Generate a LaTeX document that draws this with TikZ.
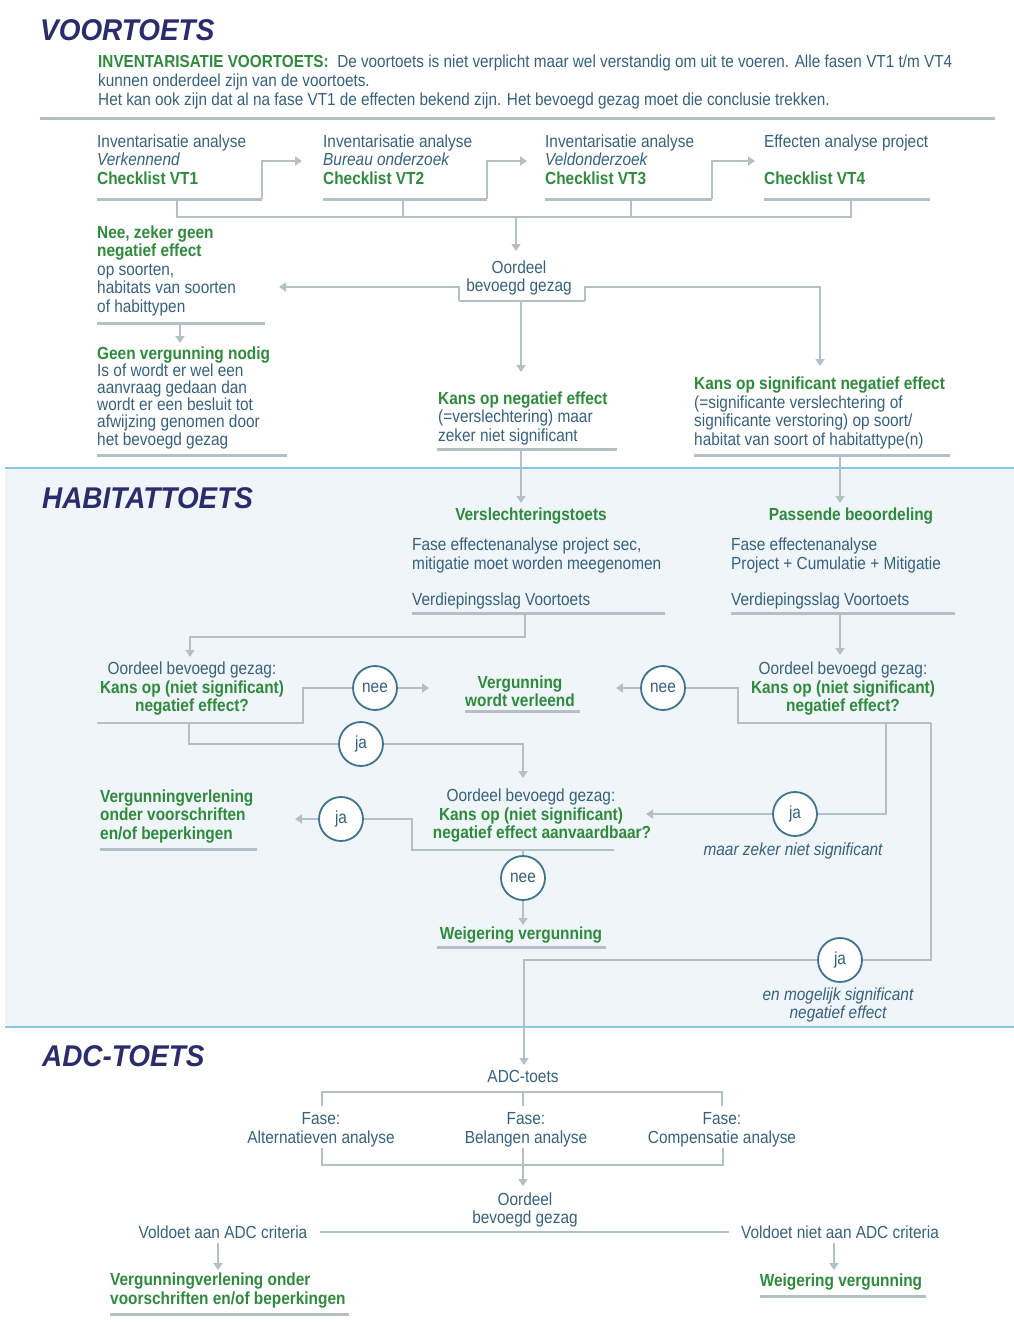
\documentclass[tikz,border=0pt]{standalone}
\usepackage{fontspec}
\setmainfont{Liberation Sans}[FakeStretch=0.88]
\newfontfamily\titlefont{Liberation Sans}[FakeStretch=0.93]
\usetikzlibrary{arrows.meta}
\definecolor{tblue}{HTML}{35617F}
\definecolor{tgreen}{HTML}{2E8B3C}
\definecolor{navy}{HTML}{2A2C6C}
\definecolor{lgrey}{HTML}{B3C0C5}
\definecolor{secbg}{HTML}{F0F5F9}
\definecolor{secline}{HTML}{8CC4E4}
\definecolor{circ}{HTML}{3F7393}
\newcommand{\grn}[1]{{\color{tgreen}\bfseries #1}}
\tikzset{
  txt/.style={font=\fontsize{17.5}{18.5}\selectfont, text=tblue, inner sep=0pt, align=left, anchor=base west},
  ctxt/.style={font=\fontsize{17.5}{18.5}\selectfont, text=tblue, inner sep=0pt, align=center, anchor=center},
  ititxt/.style={ctxt, font=\fontsize{17.5}{18.5}\selectfont\itshape},
  ttl/.style={font=\titlefont\fontsize{30}{32}\selectfont\bfseries\itshape, text=navy, inner sep=0pt, anchor=west},
  conn/.style={draw=lgrey, line width=2.5pt},
  arr/.style={conn, -{Triangle[length=7pt,width=9pt]}},
  uline/.style={draw=lgrey, line width=3pt},
  yn/.style={circle, draw=circ, line width=1.8pt, fill=white, minimum size=44pt, inner sep=0pt, text=tblue, font=\fontsize{17.5}{18.5}\selectfont}
}
\begin{document}
\begin{tikzpicture}[x=1pt,y=-1pt]
\useasboundingbox (0,0) rectangle (1014,1323);
% section background
\fill[secbg] (5,468) rectangle (1014,1027);
\draw[secline, line width=2pt] (5,468) -- (1014,468);
\draw[secline, line width=2pt] (5,1027) -- (1014,1027);
\draw[lgrey, line width=3pt] (40,118) -- (995,118);

% titles
\node[ttl] (tVT) at (40,30) {VOORTOETS};
\node[ttl] (tHT) at (42,498) {HABITATTOETS};
\node[ttl] (tADC) at (42,1056) {ADC-TOETS};

% intro
\node[txt, font=\fontsize{17.4}{18.6}\selectfont] (intro) at (98,105) {\grn{INVENTARISATIE VOORTOETS:}\ \ De voortoets is niet verplicht maar wel verstandig om uit te voeren. Alle fasen VT1 t/m VT4\\ kunnen onderdeel zijn van de voortoets.\\ Het kan ook zijn dat al na fase VT1 de effecten bekend zijn. Het bevoegd gezag moet die conclusie trekken.};

% VT columns
\node[txt] (vt1) at (97,184) {Inventarisatie analyse\\ \textit{Verkennend}\\ \grn{Checklist VT1}};
\node[txt] (vt2) at (323,184) {Inventarisatie analyse\\ \textit{Bureau onderzoek}\\ \grn{Checklist VT2}};
\node[txt] (vt3) at (545,184) {Inventarisatie analyse\\ \textit{Veldonderzoek}\\ \grn{Checklist VT3}};
\node[txt] (vt4) at (764,184) {Effecten analyse project\\ ~\\ \grn{Checklist VT4}};
\coordinate (u1a) at (97,199);  \coordinate (u1b) at (262,199);
\coordinate (u2a) at (323,199); \coordinate (u2b) at (487,199);
\coordinate (u3a) at (545,199); \coordinate (u3b) at (712,199);
\coordinate (u4a) at (764,199); \coordinate (u4b) at (930,199);
\draw[uline] (u1a) -- (u1b);
\draw[uline] (u2a) -- (u2b);
\draw[uline] (u3a) -- (u3b);
\draw[uline] (u4a) -- (u4b);
\draw[arr] (u1b) -- (262,161) -- (302,161);
\draw[arr] (u2b) -- (487,161) -- (527,161);
\draw[arr] (u3b) -- (712,161) -- (755,161);
\coordinate (br) at (516,217);
\draw[conn] (177,199) -- (177,217) -- (851,217) -- (851,199);
\draw[conn] (403,199) -- (403,217);
\draw[conn] (631,199) -- (631,217);

% Oordeel 1
\node[ctxt] (oord1) at (519,278) {Oordeel\\ bevoegd gezag};
\draw[arr] (br) -- (516,251);
\coordinate (ob1) at (459,301);
\coordinate (ob2) at (585,301);
\draw[conn] (ob1) -- (ob2);
\draw[arr] (ob1) -- (459,287) -- (279,287);
\draw[arr] (ob2) -- (585,287) -- (820,287) -- (820,366);
\draw[arr] (521,301) -- (521,372);

% Nee
\node[txt] (nee1) at (97,312) {\grn{Nee, zeker geen}\\ \grn{negatief effect}\\ op soorten,\\ habitats van soorten\\ of habittypen};
\draw[uline] (97,323) -- (265,323);
\draw[arr] (180,323) -- (180,343);
\node[txt, font=\fontsize{17.5}{17.2}\selectfont] (geen) at (97,445) {\grn{Geen vergunning nodig}\\ Is of wordt er wel een\\ aanvraag gedaan dan\\ wordt er een besluit tot\\ afwijzing genomen door\\ het bevoegd gezag};
\draw[uline] (97,455) -- (287,455);

% Kans 1
\node[txt] (kans1) at (438,441) {\grn{Kans op negatief effect}\\ (=verslechtering) maar\\ zeker niet significant};
\draw[uline] (437,449) -- (617,449);
\draw[arr] (521,449) -- (521,503);

% Kans 2
\node[txt] (kans2) at (694,445) {\grn{Kans op significant negatief effect}\\ (=significante verslechtering of\\ significante verstoring) op soort/\\ habitat van soort of habitattype(n)};
\draw[uline] (694,455) -- (950,455);
\draw[arr] (840,455) -- (840,503);

% Habitattoets
\node[ctxt] (vs) at (531,516) {\grn{Verslechteringstoets}};
\node[txt] (vsb) at (412,569) {Fase effectenanalyse project sec,\\ mitigatie moet worden meegenomen};
\node[txt] (vsv) at (412,605) {Verdiepingsslag Voortoets};
\draw[uline] (412,613) -- (665,613);
\node[ctxt] (pb) at (851,516) {\grn{Passende beoordeling}};
\node[txt] (pbb) at (731,569) {Fase effectenanalyse\\ Project + Cumulatie + Mitigatie};
\node[txt] (pbv) at (731,605) {Verdiepingsslag Voortoets};
\draw[uline] (731,613) -- (955,613);
\draw[arr] (525,613) -- (525,637) -- (190,637) -- (190,657);
\draw[arr] (840,613) -- (840,655);

% decision 1
\node[ctxt] (dec1) at (192,689) {Oordeel bevoegd gezag:\\ \grn{Kans op (niet significant)}\\ \grn{negatief effect?}};
\node[yn] (nee1c) at (375,688) {nee};
\draw[conn] (97,723) -- (303,723) |- (nee1c);
\draw[arr] (nee1c) -- (429,688);
\node[ctxt] (verl) at (520,691) {\grn{Vergunning}\\ \grn{wordt verleend}};
\draw[uline] (465,711) -- (580,711);
\node[yn] (ja1c) at (361,744) {ja};
\draw[conn] (189,723) |- (ja1c);
\draw[arr] (ja1c) -- (523,744) -- (523,778);

% decision 2
\node[ctxt] (dec2) at (843,689) {Oordeel bevoegd gezag:\\ \grn{Kans op (niet significant)}\\ \grn{negatief effect?}};
\node[yn] (nee2c) at (663,688) {nee};
\draw[conn] (931,723) -- (738,723) |- (nee2c);
\draw[arr] (nee2c) -- (616,688);
\node[yn] (ja2c) at (795,814) {ja};
\draw[conn] (886,723) |- (ja2c);
\draw[arr] (ja2c) -- (646,814);
\node[ititxt] (maar) at (793,851) {maar zeker niet significant};
\node[yn] (ja3c) at (840,960) {ja};
\draw[conn] (931,723) |- (ja3c);
\node[ititxt] (enmog) at (838,1005) {en mogelijk significant\\ negatief effect};

% decision 3
\node[ctxt] (dec3) at (531,816) {Oordeel bevoegd gezag:\\ \grn{Kans op (niet significant)}\\ \hspace*{22pt}\grn{negatief effect aanvaardbaar?}};
\node[yn] (ja4c) at (341,819) {ja};
\draw[conn] (614,850) -- (412,850) |- (ja4c);
\draw[arr] (ja4c) -- (295,819);
\node[txt] (vvl) at (100,839) {\grn{Vergunningverlening}\\ \grn{onder voorschriften}\\ \grn{en/of beperkingen}};
\draw[uline] (100,849) -- (257,849);
\node[yn] (nee3c) at (523,878) {nee};
\draw[conn] (523,850) -- (nee3c);
\draw[arr] (nee3c) -- (523,925);
\node[ctxt] (weig) at (521,935) {\grn{Weigering vergunning}};
\draw[uline] (437,947) -- (606,947);

% ADC
\node[ctxt] (adc) at (523,1076) {ADC-toets};
\draw[arr] (ja3c) -- (524,960) -- (524,1065);
\draw[conn] (322,1106) -- (322,1092) -- (722,1092) -- (722,1106);
\draw[conn] (523,1092) -- (523,1106);
\node[ctxt] (fa) at (321,1130) {Fase:\\ Alternatieven analyse};
\node[ctxt] (fb) at (526,1130) {Fase:\\ Belangen analyse};
\node[ctxt] (fc) at (722,1130) {Fase:\\ Compensatie analyse};
\draw[conn] (322,1148) -- (322,1165) -- (723,1165) -- (723,1148);
\draw[conn] (523,1148) -- (523,1165);
\draw[arr] (523,1165) -- (523,1186);
\node[ctxt] (oord2) at (525,1210) {Oordeel\\ bevoegd gezag};
\node[ctxt] (vol1) at (223,1232) {Voldoet aan ADC criteria};
\node[ctxt] (vol2) at (840,1232) {Voldoet niet aan ADC criteria};
\draw[conn, line width=1.5pt] ([xshift=12pt]vol1.east) -- ([xshift=-12pt]vol2.west);
\draw[arr] (218,1243) -- (218,1270);
\draw[arr] (834,1243) -- (834,1270);
\node[txt] (vvl2) at (110,1304) {\grn{Vergunningverlening onder}\\ \grn{voorschriften en/of beperkingen}};
\draw[uline] (110,1314) -- (349,1314);
\node[ctxt] (weig2) at (841,1282) {\grn{Weigering vergunning}};
\draw[uline] (760,1296) -- (926,1296);
\end{tikzpicture}
\end{document}
